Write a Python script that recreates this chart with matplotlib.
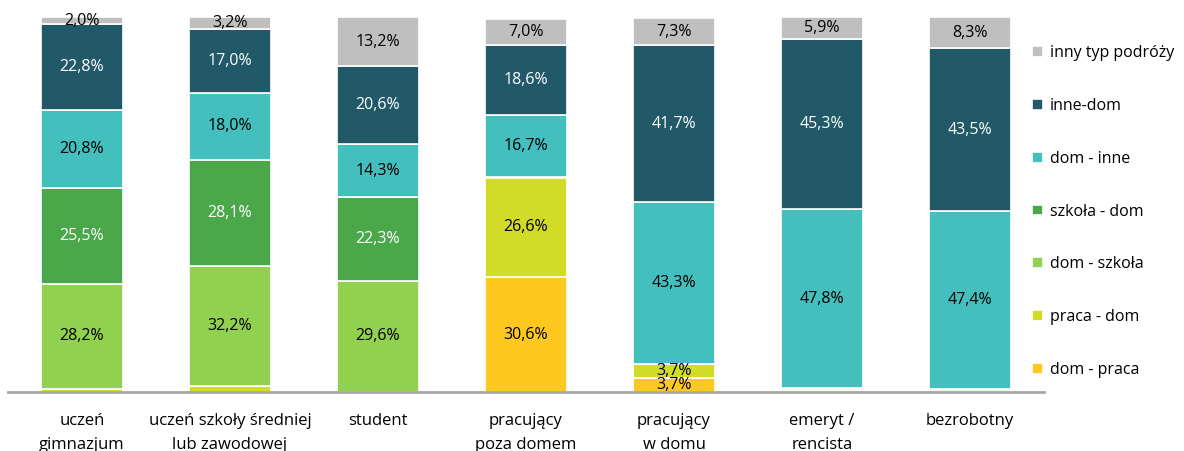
import matplotlib
matplotlib.use("Agg")
import matplotlib.pyplot as plt
import numpy as np

plt.rcParams['font.family'] = ['Open Sans', 'DejaVu Sans']

categories = ["uczeń\ngimnazjum", "uczeń szkoły średniej\nlub zawodowej", "student",
              "pracujący\npoza domem", "pracujący\nw domu", "emeryt /\nrencista", "bezrobotny"]

# series in stacking order (bottom to top)
series_names = ["dom - praca", "praca - dom", "dom - szkoła", "szkoła - dom",
                "dom - inne", "inne-dom", "inny typ podróży"]
dom_praca   = [0.0, 0.0, 0.0, 30.6, 3.7, 0.5, 0.0]
praca_dom   = [0.7, 1.5, 0.0, 26.6, 3.7, 0.5, 0.4]
dom_szkola  = [28.2, 32.2, 29.6, 0.0, 0.0, 0.0, 0.4]
szkola_dom  = [25.5, 28.1, 22.3, 0.0, 0.0, 0.0, 0.0]
dom_inne    = [20.8, 18.0, 14.3, 16.7, 43.3, 47.8, 47.4]
inne_dom    = [22.8, 17.0, 20.6, 18.6, 41.7, 45.3, 43.5]
inny_typ    = [2.0, 3.2, 13.2, 7.0, 7.3, 5.9, 8.3]

series = [dom_praca, praca_dom, dom_szkola, szkola_dom, dom_inne, inne_dom, inny_typ]
colors = ["#ffc820", "#d2dc26", "#92d050", "#4aa84a", "#43bfbd", "#215968", "#bfbfbf"]
label_colors = ["black", "black", "black", "white", "black", "white", "black"]

fig = plt.figure(figsize=(11.84, 4.51), dpi=100)
ax = fig.add_axes([8/1184, 1-392/451, (1044-8)/1184, (392-17)/451])

x = np.arange(len(categories))
bottom = np.zeros(len(categories))
handles = []
for vals, col, lc, name in zip(series, colors, label_colors, series_names):
    vals = np.array(vals)
    b = ax.bar(x, vals, width=0.555, bottom=bottom, color=col, edgecolor="white",
               linewidth=1.2, label=name)
    handles.append(b)
    for xi, v, bt in zip(x, vals, bottom):
        if v >= 1.9:
            ax.text(xi, bt + v / 2, f"{v:.1f}%".replace(".", ","), ha="center",
                    va="center", color=lc, fontsize=11.5)
    bottom += vals

ax.set_xlim(-0.5, 6.5)
ax.set_ylim(0, 100)
ax.set_yticks([])
ax.set_xticks(x)
ax.set_xticklabels(categories, fontsize=12, linespacing=1.65)
ax.tick_params(axis="x", length=0, pad=15)
for s in ["top", "right", "left"]:
    ax.spines[s].set_visible(False)
ax.spines["bottom"].set_color("#a6a6a6")
ax.spines["bottom"].set_linewidth(2)

leg = fig.legend(handles[::-1], series_names[::-1], loc="upper left",
                 bbox_to_anchor=(1018/1184, 1-31/451), frameon=False,
                 fontsize=11.5, handlelength=0.65, handleheight=0.65,
                 handletextpad=0.45, labelspacing=2.3)

fig.savefig("out.png", dpi=100)
